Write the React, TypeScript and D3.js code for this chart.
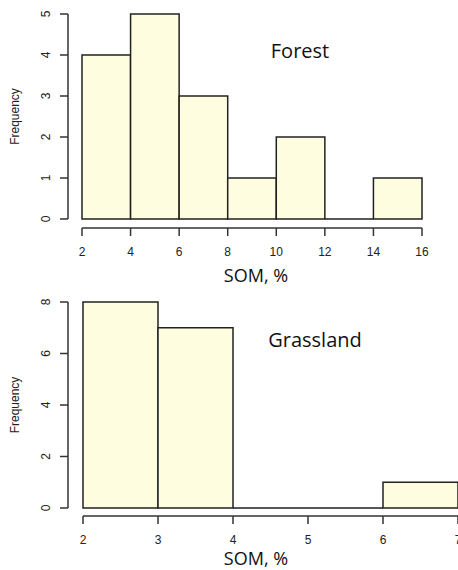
// Two stacked histograms of SOM % for forest and grassland sites
import { useRef, useEffect } from "react";
import * as d3 from "d3";

// Forest bins (2-unit wide) and counts
const forestEdges = [2, 4, 6, 8, 10, 12, 14, 16];
const forestCounts = [4, 5, 3, 1, 2, 0, 1];
const forestXTicks = [2, 4, 6, 8, 10, 12, 14, 16];
const forestYTicks = [0, 1, 2, 3, 4, 5];

// Grassland bins (1-unit wide) and counts
const grassEdges = [2, 3, 4, 5, 6, 7];
const grassCounts = [8, 7, 0, 0, 1];
const grassXTicks = [2, 3, 4, 5, 6, 7];
const grassYTicks = [0, 2, 4, 6, 8];

const panels = [
  {
    title: "Forest",
    edges: forestEdges,
    counts: forestCounts,
    xTicks: forestXTicks,
    yTicks: forestYTicks,
    xRange: [82, 422],
    yRange: [219, 14],
    xAxisY: 228,
    titlePos: [300, 58],
    xLabelY: 282,
  },
  {
    title: "Grassland",
    edges: grassEdges,
    counts: grassCounts,
    xTicks: grassXTicks,
    yTicks: grassYTicks,
    xRange: [83, 458],
    yRange: [508, 302],
    xAxisY: 516,
    titlePos: [315, 347],
    xLabelY: 565,
  },
];

export default function App() {
  const ref = useRef<SVGSVGElement>(null);

  useEffect(() => {
    document.body.style.margin = "0";
    const svg = d3.select(ref.current);
    svg.selectAll("*").remove();

    const axisColor = "#333";
    const tickFont = "Liberation Sans, Arial, sans-serif";
    const titleFont = "Open Sans, sans-serif";

    panels.forEach((p) => {
      const x = d3
        .scaleLinear()
        .domain([p.edges[0], p.edges[p.edges.length - 1]])
        .range(p.xRange);
      const y = d3
        .scaleLinear()
        .domain([p.yTicks[0], p.yTicks[p.yTicks.length - 1]])
        .range(p.yRange);

      const g = svg.append("g");

      // bars (zero-height bins show as a line on the baseline)
      p.counts.forEach((c, i) => {
        const x0 = x(p.edges[i]);
        const x1 = x(p.edges[i + 1]);
        const y0 = y(0);
        const y1 = y(c);
        g.append("path")
          .attr("d", `M${x0},${y0}V${y1}H${x1}V${y0}Z`)
          .attr("fill", "#fffde0")
          .attr("stroke", "#222")
          .attr("stroke-width", 1.5);
      });

      // y axis (R style, offset to the left, rotated labels)
      const axisX = 68;
      g.append("line")
        .attr("x1", axisX)
        .attr("x2", axisX)
        .attr("y1", y(p.yTicks[0]))
        .attr("y2", y(p.yTicks[p.yTicks.length - 1]))
        .attr("stroke", axisColor)
        .attr("stroke-width", 1.5);
      p.yTicks.forEach((t) => {
        g.append("line")
          .attr("x1", axisX - 8)
          .attr("x2", axisX)
          .attr("y1", y(t))
          .attr("y2", y(t))
          .attr("stroke", axisColor)
          .attr("stroke-width", 1.5);
        g.append("text")
          .attr("transform", `translate(50,${y(t)}) rotate(-90)`)
          .attr("text-anchor", "middle")
          .style("font-family", tickFont)
          .style("font-size", "12px")
          .attr("fill", "#222")
          .text(t);
      });

      // x axis below the bars
      g.append("line")
        .attr("x1", x(p.xTicks[0]))
        .attr("x2", x(p.xTicks[p.xTicks.length - 1]))
        .attr("y1", p.xAxisY)
        .attr("y2", p.xAxisY)
        .attr("stroke", axisColor)
        .attr("stroke-width", 1.5);
      p.xTicks.forEach((t) => {
        g.append("line")
          .attr("x1", x(t))
          .attr("x2", x(t))
          .attr("y1", p.xAxisY)
          .attr("y2", p.xAxisY + 8)
          .attr("stroke", axisColor)
          .attr("stroke-width", 1.5);
        g.append("text")
          .attr("x", x(t))
          .attr("y", p.xAxisY + 28)
          .attr("text-anchor", "middle")
          .style("font-family", tickFont)
          .style("font-size", "12px")
          .attr("fill", "#222")
          .text(t);
      });

      // axis titles
      const yMid = (p.yRange[0] + p.yRange[1]) / 2;
      g.append("text")
        .attr("transform", `translate(19,${yMid}) rotate(-90)`)
        .attr("text-anchor", "middle")
        .style("font-family", tickFont)
        .style("font-size", "12px")
        .attr("fill", "#222")
        .text("Frequency");
      g.append("text")
        .attr("x", 256)
        .attr("y", p.xLabelY)
        .attr("text-anchor", "middle")
        .style("font-family", titleFont)
        .style("font-size", "18px")
        .attr("fill", "#111")
        .text("SOM, %");

      // panel title
      g.append("text")
        .attr("x", p.titlePos[0])
        .attr("y", p.titlePos[1])
        .attr("text-anchor", "middle")
        .style("font-family", titleFont)
        .style("font-size", "20px")
        .attr("fill", "#111")
        .text(p.title);
    });
  }, []);

  return (
    <svg
      ref={ref}
      width={458}
      height={570}
      style={{ display: "block", background: "#fff" }}
    ></svg>
  );
}
